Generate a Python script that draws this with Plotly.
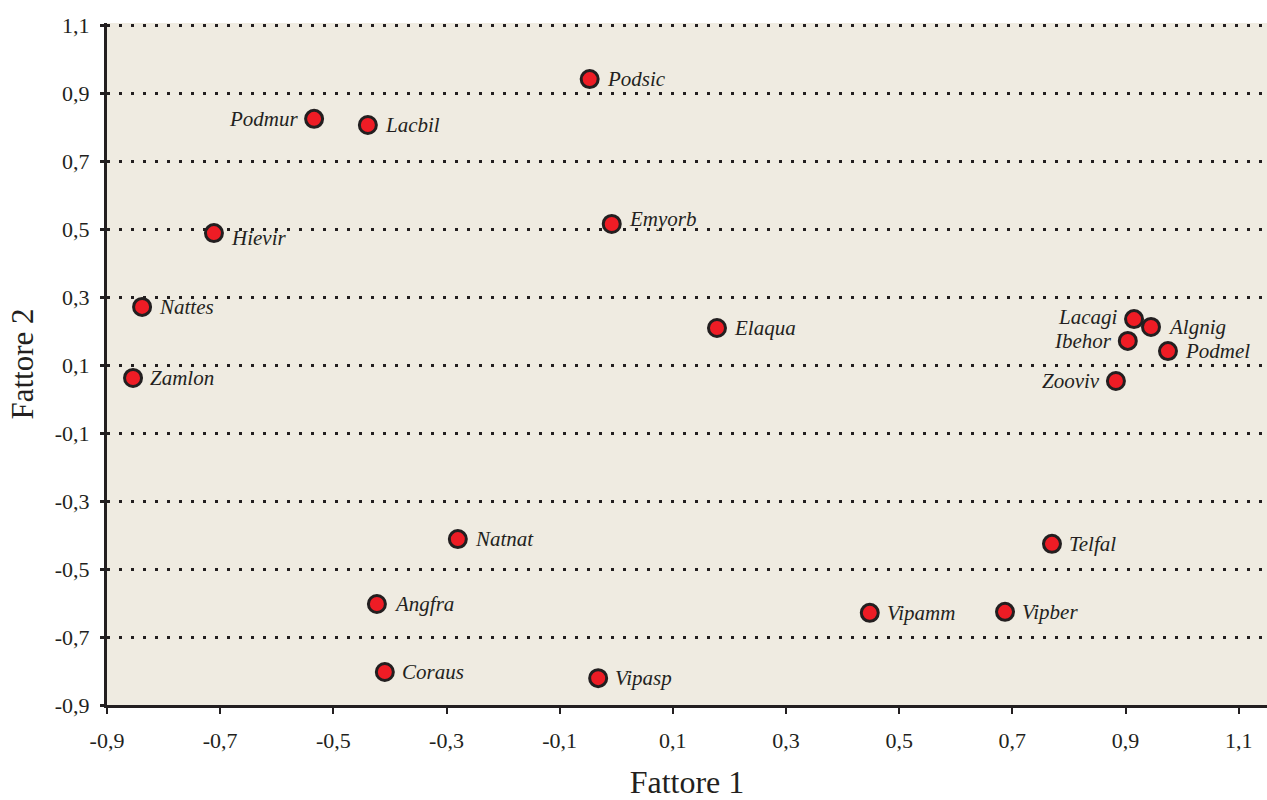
import plotly.graph_objects as go

# Species scores on the first two factors
species = ["Podsic", "Podmur", "Lacbil", "Emyorb", "Hievir", "Nattes", "Elaqua",
           "Zamlon", "Lacagi", "Algnig", "Ibehor", "Podmel", "Zooviv", "Natnat",
           "Telfal", "Angfra", "Vipamm", "Vipber", "Coraus", "Vipasp"]
fattore1 = [-0.047, -0.534, -0.439, -0.008, -0.711, -0.838, 0.178,
            -0.854, 0.915, 0.945, 0.904, 0.975, 0.883, -0.280,
            0.770, -0.423, 0.448, 0.687, -0.409, -0.032]
fattore2 = [0.941, 0.824, 0.806, 0.515, 0.488, 0.271, 0.209,
            0.062, 0.235, 0.212, 0.171, 0.141, 0.053, -0.412,
            -0.426, -0.603, -0.629, -0.626, -0.803, -0.821]
# which side of the point each name sits on
label_left = {"Podmur", "Lacagi", "Ibehor", "Zooviv"}
# small vertical nudges (px) for names that would collide with a grid line
label_nudge = {"Hievir": -5, "Emyorb": 5, "Lacagi": 2}

tick_vals = [-0.9, -0.7, -0.5, -0.3, -0.1, 0.1, 0.3, 0.5, 0.7, 0.9, 1.1]
tick_text = ["-0,9", "-0,7", "-0,5", "-0,3", "-0,1", "0,1", "0,3", "0,5", "0,7", "0,9", "1,1"]

ink = "#231F20"
serif = "Liberation Serif, Times New Roman, serif"

fig = go.Figure(go.Scatter(
    x=fattore1, y=fattore2, mode="markers",
    marker=dict(size=17, color="#EE1C25", line=dict(color=ink, width=3)),
    cliponaxis=False, showlegend=False, hoverinfo="text", text=species,
))

for name, fx, fy in zip(species, fattore1, fattore2):
    left = name in label_left
    fig.add_annotation(
        x=fx, y=fy, text=name, showarrow=False,
        xanchor="right" if left else "left", yanchor="middle",
        xshift=-14 if left else 15,
        yshift=label_nudge.get(name, 0),
        font=dict(family=serif, size=21, color=ink, style="italic"),
    )

fig.update_layout(
    width=1267, height=800,
    margin=dict(l=107, r=0, t=23, b=95, autoexpand=False),
    paper_bgcolor="white", plot_bgcolor="#EFEBE1",
    font=dict(family=serif, color=ink),
)
fig.update_xaxes(
    range=[-0.9, 1.15], tickvals=tick_vals, ticktext=tick_text,
    showgrid=False, zeroline=False, automargin=False,
    showline=True, linecolor=ink, linewidth=3,
    ticks="outside", ticklen=6, tickwidth=2, tickcolor=ink,
    tickfont=dict(size=22), ticklabelstandoff=8,
    title=dict(text="Fattore 1", font=dict(size=32), standoff=30),
)
fig.update_yaxes(
    range=[-0.9, 1.106], tickvals=tick_vals, ticktext=tick_text,
    showgrid=True, gridcolor=ink, gridwidth=3, griddash="3px,9px",
    zeroline=False, automargin=False,
    showline=True, linecolor=ink, linewidth=3,
    ticks="outside", ticklen=4, tickwidth=3, tickcolor=ink,
    tickfont=dict(size=22), ticklabelstandoff=6,
    title=dict(text="Fattore 2", font=dict(size=31), standoff=12),
)

fig.write_html("out.html")
